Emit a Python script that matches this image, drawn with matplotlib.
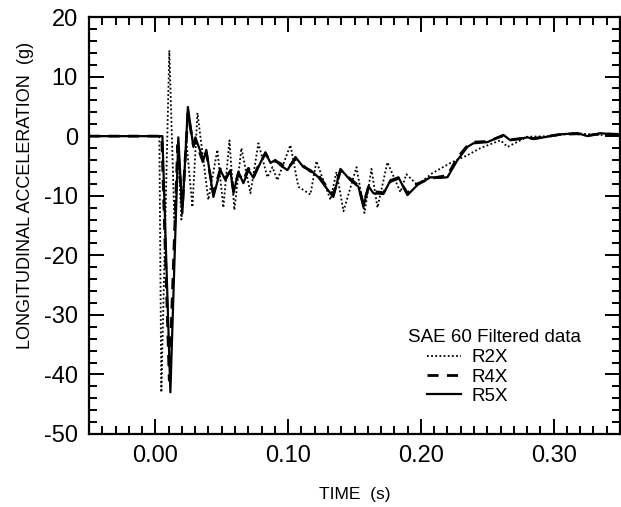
import numpy as np
import matplotlib.pyplot as plt
from matplotlib.ticker import MultipleLocator

plt.rcParams['font.family'] = ['Liberation Sans', 'DejaVu Sans']
plt.rcParams['axes.unicode_minus'] = False

# R2X (dotted) - time (s), acceleration (g)
r2x_t = [-0.05, 0.003, 0.0045, 0.0105, 0.0143, 0.0173, 0.0196, 0.0234, 0.0279, 0.0317,
         0.0399, 0.0467, 0.0512, 0.0558, 0.0595, 0.0648, 0.0716, 0.0776, 0.0844, 0.0882,
         0.0919, 0.1017, 0.1077, 0.1168, 0.1213, 0.1319, 0.1364, 0.1417, 0.1515, 0.1575,
         0.1628, 0.1673, 0.1748, 0.1846, 0.1891, 0.1974, 0.2087, 0.2223, 0.2351, 0.2449,
         0.26, 0.2653, 0.2803, 0.2977, 0.315, 0.3353, 0.35]
r2x_g = [0, 0, -43, 14.4, -14, -3, -14, -1, -11.9, 3.9,
         -10.7, -2.3, -12, -0.7, -12.4, -2, -9.6, -1.2, -6.9, -5.2,
         -7.4, -1.5, -8.5, -9.8, -4.2, -10.7, -6, -12.6, -5.2, -12.9,
         -5.5, -12, -4.4, -9.4, -6.4, -8.2, -6.2, -4.5, -3.2, -2,
         -0.7, -1.8, -0.1, 0, 0.5, 0.2, 0.3]

# R4X (dashed)
r4x_t = [-0.05, 0.0048, 0.0105, 0.0168, 0.0203, 0.0245, 0.0286, 0.0301, 0.0362, 0.0384,
         0.0437, 0.049, 0.0528, 0.0565, 0.0588, 0.0625, 0.0663, 0.0701, 0.0739, 0.0776,
         0.0829, 0.0867, 0.0904, 0.0942, 0.0995, 0.1055, 0.1115, 0.1168, 0.1228, 0.1281,
         0.1341, 0.1394, 0.1469, 0.153, 0.1567, 0.1605, 0.1643, 0.1718, 0.1771, 0.1831,
         0.1899, 0.1974, 0.2072, 0.2148, 0.22, 0.2276, 0.2351, 0.2396, 0.2502, 0.2622,
         0.2675, 0.2803, 0.2849, 0.3052, 0.318, 0.3255, 0.3353, 0.35]
r4x_g = [0, 0, -41, -1.5, -12, 3.8, -1.5, -0.8, -4.5, -2.8,
         -9.6, -5.5, -7.0, -5.9, -9.0, -6.3, -7.5, -5.4, -6.8, -5.0,
         -2.9, -4.3, -4.2, -4.6, -5.5, -3.8, -5.0, -5.9, -6.6, -8.2,
         -9.8, -5.8, -7.2, -8.3, -11.4, -8.6, -9.3, -9.5, -7.6, -7.1,
         -9.6, -8.0, -7.1, -6.8, -6.6, -3.6, -1.6, -1.0, -0.9, 0.1,
         -0.6, -0.3, -0.4, 0.3, 0.4, 0.1, 0.4, 0.3]

# R5X (solid)
r5x_t = [-0.05, 0.0053, 0.0113, 0.0173, 0.0203, 0.0245, 0.0286, 0.0301, 0.0362, 0.0384,
         0.0437, 0.049, 0.0528, 0.0565, 0.0588, 0.0625, 0.0663, 0.0701, 0.0739, 0.0776,
         0.0829, 0.0867, 0.0904, 0.0942, 0.0995, 0.1055, 0.1115, 0.1168, 0.1228, 0.1281,
         0.1341, 0.1394, 0.1469, 0.153, 0.1567, 0.1605, 0.1643, 0.1718, 0.1771, 0.1831,
         0.1899, 0.1974, 0.2072, 0.2148, 0.22, 0.2276, 0.2351, 0.2396, 0.2502, 0.2622,
         0.2675, 0.2803, 0.2849, 0.3052, 0.318, 0.3255, 0.3353, 0.35]
r5x_g = [0, 0, -43, -0.2, -13, 4.9, -1.8, -0.2, -4, -2.3,
         -10.2, -5.7, -7.4, -5.7, -9.6, -6, -7.9, -5.7, -7, -5.2,
         -2.7, -4.5, -4, -4.9, -5.7, -3.5, -5.2, -5.7, -6.9, -8.5,
         -10.2, -5.5, -7.4, -8.5, -11.9, -8.4, -9.6, -9.7, -7.4, -6.9,
         -9.9, -8.2, -6.9, -7.0, -6.9, -4, -1.8, -1.2, -1, 0.2,
         -0.7, -0.2, -0.5, 0.3, 0.5, 0, 0.5, 0.2]

W, H = 621, 507
fig = plt.figure(figsize=(W / 100, H / 100), dpi=100)
ax = fig.add_axes([89 / W, 1 - 434 / H, 531 / W, 417 / H])

ax.plot(r2x_t, r2x_g, color='black', linestyle=(0, (1, 1.3)), linewidth=1.3, label='R2X')
ax.plot(r4x_t, r4x_g, color='black', linestyle=(0, (4, 3)), linewidth=2.0, label='R4X')
ax.plot(r5x_t, r5x_g, color='black', linestyle='-', linewidth=1.6, label='R5X')

ax.set_xlim(-0.05, 0.35)
ax.set_ylim(-50, 20)
ax.xaxis.set_minor_locator(MultipleLocator(0.01))
ax.yaxis.set_major_locator(MultipleLocator(10))
ax.yaxis.set_minor_locator(MultipleLocator(2))
ax.set_xticks([0.0, 0.1, 0.2, 0.3])
ax.set_xticklabels(['0.00', '0.10', '0.20', '0.30'])

ax.tick_params(which='both', direction='in', top=True, right=True, width=1.4, labelsize=17)
ax.tick_params(which='major', length=11, pad=8)
ax.tick_params(which='minor', length=6)
for s in ax.spines.values():
    s.set_linewidth(1.6)

ax.set_xlabel('TIME  (s)', fontsize=12.5, labelpad=14)
fig.text(26 / W, 1 - 195 / H, 'LONGITUDINAL ACCELERATION  (g)', fontsize=13,
         rotation=90, ha='center', va='center')

# legend title drawn separately so the entries sit indented under it
fig.text(408 / W, 1 - 337 / H, 'SAE 60 Filtered data', fontsize=13.5, ha='left', va='center')
ax.legend(loc='upper left', bbox_to_anchor=(427 / W, 1 - 349 / H), bbox_transform=fig.transFigure,
          frameon=False, fontsize=13.5, handlelength=1.8, handletextpad=0.55,
          borderaxespad=0, borderpad=0, labelspacing=0.12)

fig.savefig('out.png', dpi=100)
